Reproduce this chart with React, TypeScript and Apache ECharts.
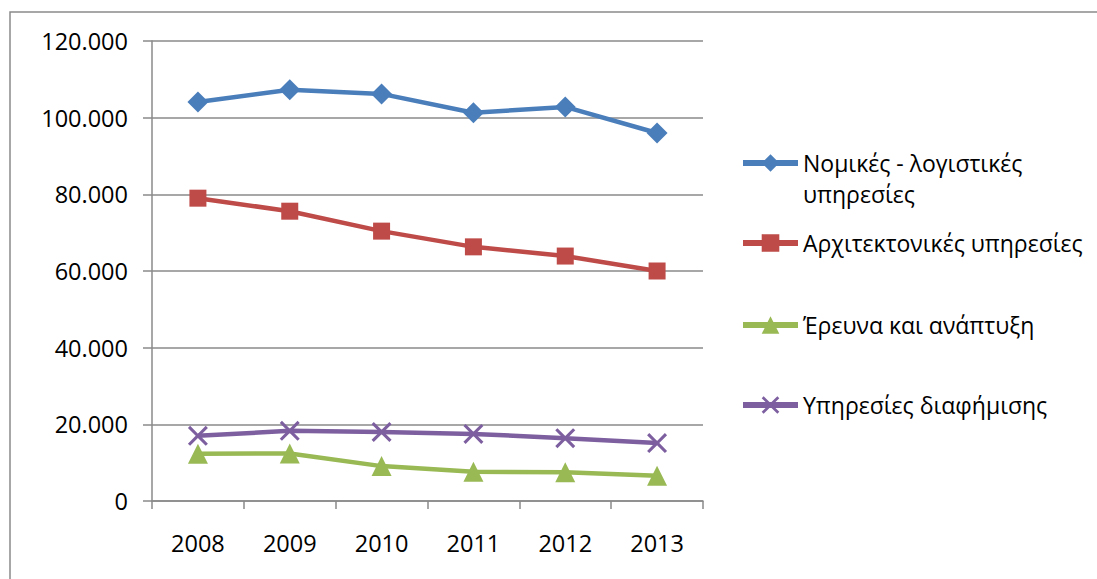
import React, { useEffect, useRef } from "react";
import * as echarts from "echarts";

const years = ["2008", "2009", "2010", "2011", "2012", "2013"];
const legal = [104100, 107300, 106200, 101300, 102800, 96000];
const architecture = [79000, 75600, 70400, 66300, 63900, 60000];
const research = [12300, 12400, 9100, 7600, 7500, 6600];
const advertising = [17000, 18300, 18000, 17500, 16400, 15100];
const seriesNames = [
  "Νομικές - λογιστικές υπηρεσίες",
  "Αρχιτεκτονικές υπηρεσίες",
  "Έρευνα και ανάπτυξη",
  "Υπηρεσίες διαφήμισης",
];
const colors = ["#4A7EBB", "#BE4B48", "#98B954", "#7D5FA0"];

const FONT = "'Open Sans', 'Liberation Sans', sans-serif";
const crossPath =
  "path://M0,1.1 L1.1,0 L5,3.9 L8.9,0 L10,1.1 L6.1,5 L10,8.9 L8.9,10 L5,6.1 L1.1,10 L0,8.9 L3.9,5 Z";

function fmt(v: number) {
  if (v === 0) return "0";
  const s = String(Math.round(v));
  return s.replace(/\B(?=(\d{3})+(?!\d))/g, ".");
}

export default function App() {
  const ref = useRef<HTMLDivElement>(null);
  useEffect(() => {
    if (!ref.current) return;
    const chart = echarts.init(ref.current, undefined, { renderer: "svg" });
    const datasets = [legal, architecture, research, advertising];
    const symbols = ["diamond", "rect", "triangle", crossPath];
    const sizes = [21, 17, 20, 20];
    const legendTops = [116.5, 227.5, 309.5, 389.5];
    chart.setOption({
      animation: false,
      backgroundColor: "#ffffff",
      textStyle: { fontFamily: FONT },
      graphic: [
        {
          type: "rect",
          shape: { x: 10, y: 12, width: 1200, height: 700 },
          style: { fill: "none", stroke: "#8a8a8a", lineWidth: 1.5 },
          silent: true,
        },
      ],
      grid: { left: 152, right: 394, top: 41, bottom: 78 },
      legend: seriesNames.map((n, i) => ({
        data: [n],
        orient: "vertical",
        left: 740,
        top: legendTops[i],
        padding: 0,
        itemWidth: 55,
        itemHeight: 22,
        itemGap: 0,
        selectedMode: false,
        lineStyle: { width: 6 },
        formatter: (name: string) =>
          name === seriesNames[0] ? "\nΝομικές - λογιστικές\nυπηρεσίες" : name,
        textStyle: {
          fontFamily: FONT,
          fontSize: 23,
          color: "#000",
          lineHeight: 31,
        },
      })),
      xAxis: {
        type: "category",
        data: years,
        boundaryGap: true,
        axisLine: { lineStyle: { color: "#8a8a8a", width: 1.5 } },
        axisTick: { show: true, length: 8, lineStyle: { color: "#8a8a8a", width: 1.5 } },
        axisLabel: { color: "#000", fontSize: 23.5, fontFamily: FONT, margin: 30 },
      },
      yAxis: {
        type: "value",
        min: 0,
        max: 120000,
        interval: 20000,
        axisLine: { show: true, lineStyle: { color: "#8a8a8a", width: 1.5 } },
        axisTick: { show: true, length: 9, lineStyle: { color: "#8a8a8a", width: 1.5 } },
        splitLine: { lineStyle: { color: "#8a8a8a", width: 1.5 } },
        axisLabel: {
          color: "#000",
          fontSize: 23.5,
          fontFamily: FONT,
          margin: 24,
          formatter: (v: number) => fmt(v),
        },
      },
      series: datasets.map((d, i) => ({
        name: seriesNames[i],
        type: "line",
        data: d,
        symbol: symbols[i],
        symbolSize: sizes[i],
        showSymbol: true,
        lineStyle: { color: colors[i], width: 4.5 },
        itemStyle: { color: colors[i] },
        z: 10 - i,
      })),
    });
    return () => chart.dispose();
  }, []);
  return (
    <div
      ref={ref}
      style={{ position: "fixed", left: 0, top: 0, width: 1097, height: 579 }}
    />
  );
}
